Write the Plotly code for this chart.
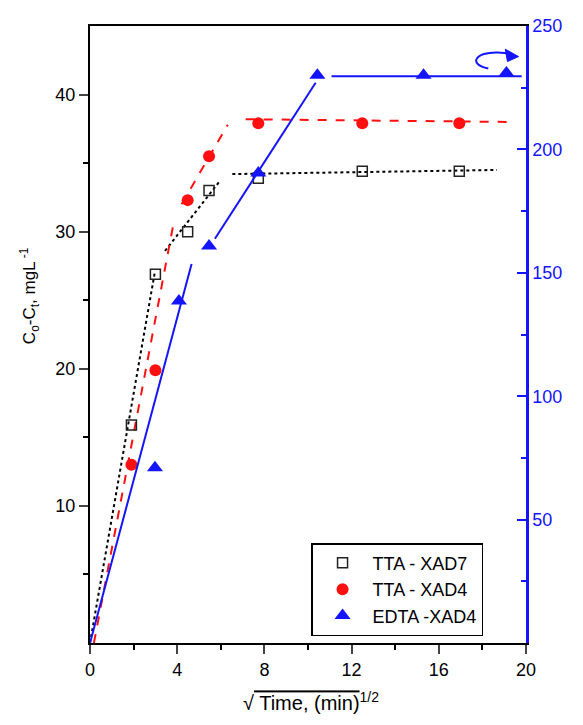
import plotly.graph_objects as go

# ---- data ----
sqrt_time = [1.9, 3.0, 4.48, 5.46, 7.72, 12.49, 16.94]
tta_xad7 = [15.9, 26.9, 30.0, 33.0, 33.9, 34.4, 34.4]
tta_xad4 = [13.0, 19.9, 32.3, 35.5, 37.9, 37.9, 37.9]
edta_sqrt_time = [2.98, 4.08, 5.46, 7.72, 10.43, 15.3, 19.1]
edta_xad4 = [71, 138.6, 160.9, 190.4, 230, 230, 231]

fit7_x = [0, 2.98, None, 3.44, 5.96, None, 6.53, 18.66]
fit7_y = [0, 27.1, None, 28.6, 33.7, None, 34.2, 34.5]
fit4_x = [0.18, 3.82, None, 4.2, 6.32, None, 7.14, 19.37]
fit4_y = [0, 30.5, None, 32.0, 37.8, None, 38.2, 38.0]
fite_x = [0, 4.66, None, 5.73, 10.35, None, 11.08, 19.8]
fite_y = [0, 153.6, None, 163.8, 227, None, 229.6, 229.6]

x_ticks = [0, 4, 8, 12, 16, 20]
y_ticks = [10, 20, 30, 40]
y2_ticks = [50, 100, 150, 200, 250]

BLUE = "#1414ff"
RED = "#ff1010"
FONT = "Liberation Sans, Arial, sans-serif"

fig = go.Figure()
fig.add_trace(go.Scatter(x=fit7_x, y=fit7_y, mode="lines", line=dict(color="black", width=2, dash="dot"),
                         showlegend=False, hoverinfo="skip"))
fig.add_trace(go.Scatter(x=fit4_x, y=fit4_y, mode="lines", line=dict(color=RED, width=2, dash="dash"),
                         showlegend=False, hoverinfo="skip"))
fig.add_trace(go.Scatter(x=fite_x, y=fite_y, mode="lines", yaxis="y2", line=dict(color=BLUE, width=2),
                         showlegend=False, hoverinfo="skip"))

fig.add_trace(go.Scatter(x=sqrt_time, y=tta_xad7, mode="markers", name="TTA - XAD7",
                         marker=dict(symbol="square-open", size=10, color="#222", line=dict(width=1.5))))
fig.add_trace(go.Scatter(x=sqrt_time, y=tta_xad4, mode="markers", name="TTA - XAD4",
                         marker=dict(symbol="circle", size=12, color=RED)))
fig.add_trace(go.Scatter(x=edta_sqrt_time, y=edta_xad4, mode="markers", name="EDTA -XAD4",
                         yaxis="y2", marker=dict(symbol="triangle-up", size=14, color=BLUE)))

# curved arrow pointing to right axis
fig.add_shape(type="path", xref="x", yref="y2",
              path="M 18.27,232.8 C 17.3,234.6 17.7,239.6 18.7,239.3 Q 19.1,239.2 19.35,238.6",
              line=dict(color=BLUE, width=2))
fig.add_shape(type="path", xref="x", yref="y2",
              path="M 19.66,237.6 L 19.05,240.6 L 19.15,235.6 Z",
              fillcolor=BLUE, line=dict(color=BLUE, width=1))

fig.add_annotation(xref="paper", yref="paper", x=-0.172, y=0.563, textangle=-90, showarrow=False,
                   text="C<sub>o</sub>-C<sub>t</sub>, mgL<sup> -1</sup>", font=dict(size=17, color="black", family=FONT))
fig.add_annotation(xref="paper", yref="paper", x=0.507, y=-0.119, showarrow=False,
                   text="√<span style='text-decoration:overline'> Time, (min)</span><sup>1/2</sup>",
                   font=dict(size=20, color="black", family=FONT))

fig.update_layout(
    width=583, height=725,
    margin=dict(l=82, r=65, t=8, b=90),
    paper_bgcolor="white", plot_bgcolor="white",
    font=dict(family=FONT, size=18, color="black"),
    xaxis=dict(range=[0, 20], tickvals=x_ticks, ticks="outside", ticklen=9, tickwidth=2,
               showline=True, linecolor="black", linewidth=2, mirror=True, showgrid=False, zeroline=False,
               minor=dict(dtick=2, ticks="outside", ticklen=5, tickwidth=2, tickcolor="black"),
               tickfont=dict(size=18)),
    yaxis=dict(range=[0, 45], tickvals=y_ticks, ticks="outside", ticklen=9, tickwidth=2,
               showline=True, linecolor="black", linewidth=2, showgrid=False, zeroline=False,
               minor=dict(tickvals=[5, 15, 25, 35], ticks="outside", ticklen=5, tickwidth=2, tickcolor="black"),
               tickfont=dict(size=18)),
    yaxis2=dict(range=[0, 250], tickvals=y2_ticks, overlaying="y", side="right", ticks="inside", ticklen=9,
                tickwidth=2, tickcolor=BLUE, showline=True, linecolor=BLUE, linewidth=2.5, showgrid=False,
                zeroline=False, tickfont=dict(size=18, color=BLUE),
                minor=dict(tickvals=[25, 75, 125, 175, 225], ticks="inside", ticklen=5, tickwidth=2, tickcolor=BLUE)),
    legend=dict(x=0.507, y=0.162, xanchor="left", yanchor="top", bordercolor="black", borderwidth=1.5,
                bgcolor="white", font=dict(size=18), traceorder="normal", itemwidth=50),
    showlegend=True,
)

fig.write_html("out.html")
